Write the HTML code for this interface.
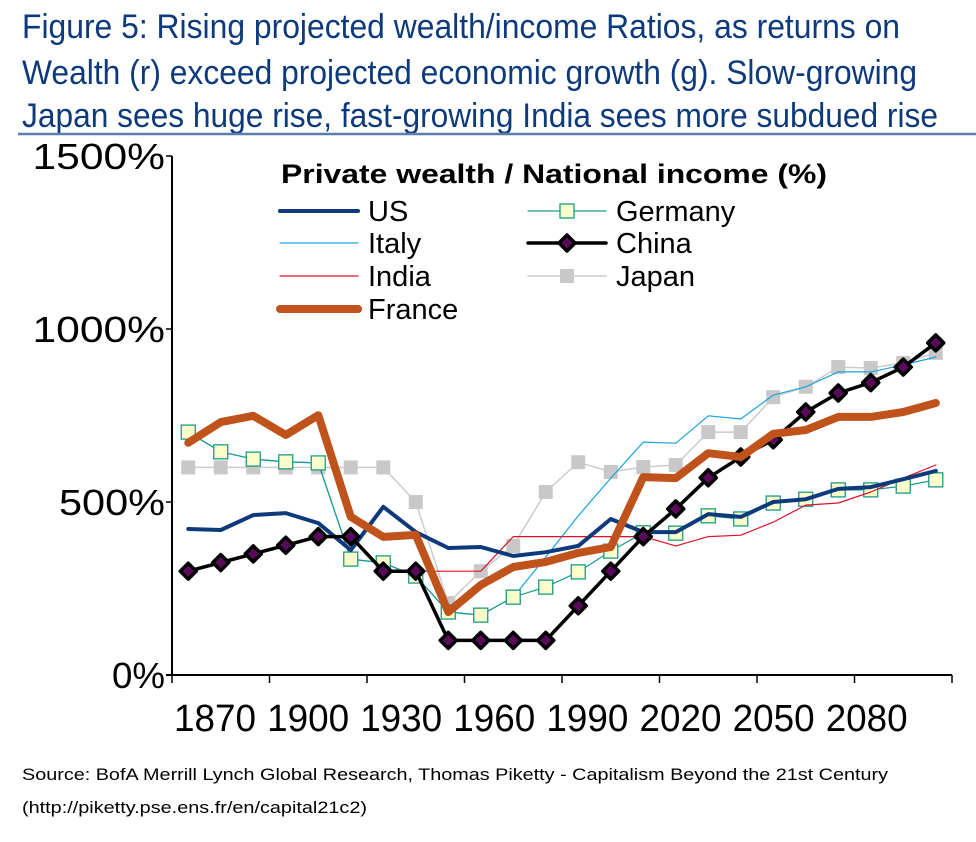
<!DOCTYPE html>
<html><head><meta charset="utf-8"><style>
html,body{margin:0;padding:0;background:#fff;}
svg{display:block;font-family:"Liberation Sans",Arial,sans-serif;}
</style></head><body>
<svg id="chart" width="976" height="842" viewBox="0 0 976 842" xmlns="http://www.w3.org/2000/svg">
<g fill="#0d3a7a" font-size="34">
<text x="22" y="38" textLength="878" lengthAdjust="spacingAndGlyphs">Figure 5: Rising projected wealth/income Ratios, as returns on</text>
<text x="22" y="84" textLength="895" lengthAdjust="spacingAndGlyphs">Wealth (r) exceed projected economic growth (g). Slow-growing</text>
<text x="22" y="127" textLength="916" lengthAdjust="spacingAndGlyphs">Japan sees huge rise, fast-growing India sees more subdued rise</text>
</g>
<line x1="18" y1="134" x2="976" y2="134" stroke="#5b7fab" stroke-width="2.5"/>
<g id="axes"></g>
<g id="series"></g>
<g>
<text x="281" y="183" font-size="27" font-weight="bold" textLength="546" lengthAdjust="spacingAndGlyphs">Private wealth / National income (%)</text>
<g id="legend-items"></g>
</g>
<g font-size="17" fill="#000">
<text x="22" y="780" textLength="866" lengthAdjust="spacingAndGlyphs">Source: BofA Merrill Lynch Global Research, Thomas Piketty - Capitalism Beyond the 21st Century</text>
<text x="22" y="813" textLength="345" lengthAdjust="spacingAndGlyphs">(http://piketty.pse.ens.fr/en/capital21c2)</text>
</g>
</svg>
<script>
const categories = [1870,1880,1890,1900,1910,1920,1930,1940,1950,1960,1970,1980,1990,2000,2010,2020,2030,2040,2050,2060,2070,2080,2090,2100];
const xTickLabels = ["1870","1900","1930","1960","1990","2020","2050","2080"];
const yTicks = [0,500,1000,1500];
const usValues = [422,419,462,468,439,361,486,413,367,370,344,355,373,451,413,413,465,457,500,508,538,543,566,590];
const germanyValues = [702,645,624,616,613,335,324,286,182,173,225,254,298,358,411,410,460,451,497,508,535,535,546,564];
const italyValues = [702,645,624,616,613,335,324,286,182,173,225,341,460,569,673,670,749,740,809,833,876,876,896,919];
const chinaValues = [300,325,350,375,400,400,300,300,100,100,100,100,200,300,400,480,570,630,680,760,815,845,890,960];
const indiaValues = [300,325,350,375,400,400,300,300,300,300,400,400,400,400,400,373,400,404,442,491,497,529,569,607];
const japanValues = [600,600,600,600,600,600,600,500,208,300,373,529,615,587,601,607,702,702,803,833,890,887,902,931];
const franceValues = [671,731,749,694,751,457,399,405,182,260,312,327,353,370,572,569,641,630,697,708,746,746,760,786];

const NS="http://www.w3.org/2000/svg";
const X0=172, STEP=32.5, Y0=675, YS=0.346;
function xScale(i){return X0+STEP*(i+0.5);}
function yScale(v){return Y0-v*YS;}
function mk(tag,attrs,parent){const e=document.createElementNS(NS,tag);for(const k in attrs)e.setAttribute(k,attrs[k]);parent.appendChild(e);return e;}

const axes=document.getElementById('axes');
const xEnd=X0+STEP*categories.length;
let yAxis=mk('line',{x1:X0,y1:yScale(1500),x2:X0,y2:Y0+1,stroke:'#000','stroke-width':2},axes);


let xAxis=mk('line',{x1:X0-6,y1:Y0,x2:xEnd,y2:Y0,stroke:'#000','stroke-width':2},axes);


yTicks.forEach(v=>{
  const y=yScale(v);
  let t=mk('line',{x1:X0-6,y1:y,x2:X0,y2:y,stroke:'#000','stroke-width':1.5},axes);
  
  
  const s=v+'%';
  let lb=mk('text',{x:165,y:y+13,'font-size':36,'text-anchor':'end',textLength:s.length*26.5,lengthAdjust:'spacingAndGlyphs'},axes);
  lb.textContent=s;
  
  
});
for(let k=0;k<=categories.length/3;k++){
  const x=X0+STEP*3*k;
  let t=mk('line',{x1:x,y1:Y0,x2:x,y2:Y0+8,stroke:'#000','stroke-width':1.5},axes);
  
  
}
xTickLabels.forEach((s,k)=>{
  let lb=mk('text',{x:215+93.1*k,y:731,'font-size':38,'text-anchor':'middle',textLength:82,lengthAdjust:'spacingAndGlyphs'},axes);
  lb.textContent=s;
  
  
});

const seriesDefs=[
 {name:'japan',vals:japanValues,color:'#cccccc',w:1.5,marker:'graysq'},
 {name:'italy',vals:italyValues,color:'#1aa3e0',w:1.2,marker:null},
 {name:'germany',vals:germanyValues,color:'#1a9a8a',w:1.2,marker:'sq'},
 {name:'india',vals:indiaValues,color:'#e0102a',w:1.2,marker:null},
 {name:'us',vals:usValues,color:'#0d3a7a',w:4,marker:null},
 {name:'china',vals:chinaValues,color:'#000',w:3.5,marker:'dia'},
 {name:'france',vals:franceValues,color:'#c0531b',w:8,marker:null}
];
const sg=document.getElementById('series');
function marker(type,x,y,parent){
  let m;
  if(type==='sq'){m=mk('rect',{x:x-7,y:y-7,width:14,height:14,fill:'#ffffcc',stroke:'#1a9a8a','stroke-width':1.3},parent);}
  else if(type==='graysq'){m=mk('rect',{x:x-7,y:y-7,width:14,height:14,fill:'#c8c8c8'},parent);}
  else {m=mk('polygon',{points:`${x},${y-8} ${x+8},${y} ${x},${y+8} ${x-8},${y}`,fill:'#5a0a5a',stroke:'#000','stroke-width':3.5,'stroke-linejoin':'round'},parent);}
  return m;
}
seriesDefs.forEach(s=>{
  const g=mk('g',{},sg);
  
  
  const pts=s.vals.map((v,i)=>xScale(i).toFixed(1)+','+yScale(v).toFixed(1)).join(' ');
  let pl=mk('polyline',{points:pts,fill:'none',stroke:s.color,'stroke-width':s.w,'stroke-linejoin':'round','stroke-linecap':'round'},g);
  
  
  if(s.marker){s.vals.forEach((v,i)=>{
    let m=marker(s.marker,xScale(i),yScale(v),g);
    
    
  });}
});

const leg=document.getElementById('legend-items');
const legendDefs=[
 {label:'US',x:280,y:211,color:'#0d3a7a',w:4,marker:null},
 {label:'Italy',x:280,y:243,color:'#1aa3e0',w:1.2,marker:null},
 {label:'India',x:280,y:276,color:'#e0102a',w:1.2,marker:null},
 {label:'France',x:280,y:309,color:'#c0531b',w:8,marker:null},
 {label:'Germany',x:528,y:211,color:'#1a9a8a',w:1.2,marker:'sq'},
 {label:'China',x:528,y:243,color:'#000',w:3.5,marker:'dia'},
 {label:'Japan',x:528,y:276,color:'#cccccc',w:1.5,marker:'graysq'}
];
legendDefs.forEach(d=>{
  const g=mk('g',{},leg);
  
  
  mk('line',{x1:d.x,y1:d.y,x2:d.x+78,y2:d.y,stroke:d.color,'stroke-width':d.w,'stroke-linecap':'round'},g);
  if(d.marker){marker(d.marker,d.x+39,d.y,g);}
  const t=mk('text',{x:d.x+88,y:d.y+10,'font-size':29},g);
  t.textContent=d.label;
});
</script>
</body></html>
